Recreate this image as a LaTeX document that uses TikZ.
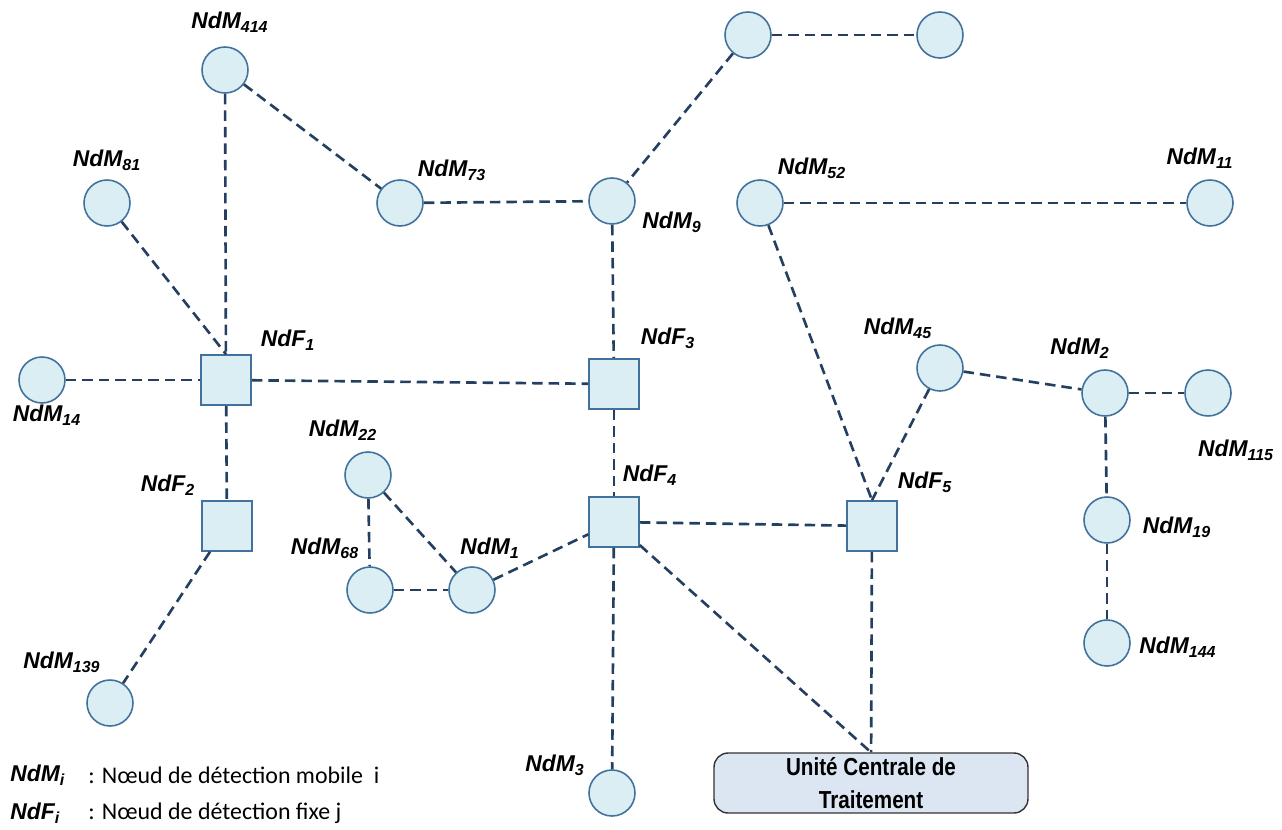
\documentclass[tikz,border=0pt]{standalone}
\usepackage{fontspec}
\usepackage{tikz}
\setmainfont{Liberation Sans}
\newfontfamily\narrowfont[FakeStretch=0.84]{Liberation Sans}
\newfontfamily\legfont{Carlito}

\definecolor{nodefill}{HTML}{DAEEF3}
\definecolor{nodeline}{HTML}{41719C}
\definecolor{linkcol}{HTML}{243F60}
\definecolor{ucfill}{HTML}{DCE6F2}

\tikzset{
    mob/.style={circle,draw=nodeline,fill=nodefill,line width=0.9pt,inner sep=0pt,minimum size=0.92cm},
    fix/.style={rectangle,draw=nodeline,fill=nodefill,line width=0.9pt,inner sep=0pt,minimum size=1cm},
    link/.style={draw=linkcol,line width=1.5pt,dash pattern=on 0.21cm off 0.12cm},
    lbl/.style={font=\fontsize{13}{15}\selectfont\bfseries\itshape,inner sep=0pt}
}

\begin{document}
\begin{tikzpicture}[x=0.02cm,y=-0.02cm]
            \useasboundingbox (0,0) rectangle (1282,829);
            \def\sub#1{\textsubscript{#1}}

            % mobile nodes
            \node[mob] (t1) at (748,35) {};
            \node[mob] (t2) at (940,35) {};
            \node[mob] (m414) at (225,70) {};
            \node[mob] (m81) at (107,203) {};
            \node[mob] (m73) at (400,203) {};
            \node[mob] (m9) at (612,201) {};
            \node[mob] (m52) at (760,203) {};
            \node[mob] (m11) at (1210,203) {};
            \node[mob] (m14) at (42,380) {};
            \node[mob] (m45) at (940,368) {};
            \node[mob] (m2) at (1105,393) {};
            \node[mob] (m115) at (1208,393) {};
            \node[mob] (m22) at (368,475) {};
            \node[mob] (m68) at (370,590) {};
            \node[mob] (m1) at (472,590) {};
            \node[mob] (m19) at (1107,520) {};
            \node[mob] (m144) at (1107,643) {};
            \node[mob] (m139) at (110,703) {};
            \node[mob] (m3) at (612,793) {};

            % fixed nodes
            \node[fix] (f1) at (226,380) {};
            \node[fix] (f3) at (614,384) {};
            \node[fix] (f2) at (227,526) {};
            \node[fix] (f4) at (614,522) {};
            \node[fix] (f5) at (872,526) {};

            % central unit
            \node[draw=black!80,fill=ucfill,line width=0.8pt,rounded corners=8pt,
                  minimum width=6.28cm,minimum height=1.2cm,inner sep=0pt,
                  align=center,font=\narrowfont\fontsize{14}{18.5}\selectfont\bfseries]
                  (cu) at (871,783) {Unité Centrale de\\Traitement};

            % links
            \draw[link] (t1) -- (t2);
            \draw[link] (t1) -- (m9);
            \draw[link] (m414) -- (f1);
            \draw[link] (m414) -- (m73);
            \draw[link] (m73) -- (m9);
            \draw[link] (m9) -- (f3);
            \draw[link] (m81) -- (f1.north);
            \draw[link] (m14) -- (f1);
            \draw[link] (f1) -- (f3);
            \draw[link] (f1) -- (f2);
            \draw[link] (f2) -- (m139);
            \draw[link] (f3) -- (f4);
            \draw[link] (f4) -- (m3);
            \draw[link] (f4) -- (f5);
            \draw[link] (f4) -- (cu.north);
            \draw[link] (m1) -- (f4);
            \draw[link] (m22) -- (m68);
            \draw[link] (m22) -- (m1);
            \draw[link] (m68) -- (m1);
            \draw[link] (m52) -- (f5.north);
            \draw[link] (m52) -- (m11);
            \draw[link] (m45) -- (f5.north);
            \draw[link] (m45) -- (m2);
            \draw[link] (m2) -- (m115);
            \draw[link] (m2) -- (m19);
            \draw[link] (m19) -- (m144);
            \draw[link] (f5) -- (cu);

            % labels
            \node[lbl] (l414) at (230,22) {NdM\sub{414}};
            \node[lbl] (l81) at (107,160) {NdM\sub{81}};
            \node[lbl] (l73) at (452,170) {NdM\sub{73}};
            \node[lbl] (l9) at (672,222) {NdM\sub{9}};
            \node[lbl] (l52) at (812,168) {NdM\sub{52}};
            \node[lbl] (l11) at (1200,158) {NdM\sub{11}};
            \node[lbl] (l14) at (47,415) {NdM\sub{14}};
            \node[lbl] (l45) at (898,328) {NdM\sub{45}};
            \node[lbl] (l2) at (1080,348) {NdM\sub{2}};
            \node[lbl] (l115) at (1236,450) {NdM\sub{115}};
            \node[lbl] (l22) at (343,430) {NdM\sub{22}};
            \node[lbl] (l68) at (325,548) {NdM\sub{68}};
            \node[lbl] (l1) at (490,548) {NdM\sub{1}};
            \node[lbl] (l19) at (1177,527) {NdM\sub{19}};
            \node[lbl] (l144) at (1178,647) {NdM\sub{144}};
            \node[lbl] (l139) at (62,662) {NdM\sub{139}};
            \node[lbl] (l3) at (555,765) {NdM\sub{3}};
            \node[lbl] (lf1) at (288,340) {NdF\sub{1}};
            \node[lbl] (lf3) at (668,338) {NdF\sub{3}};
            \node[lbl] (lf2) at (168,485) {NdF\sub{2}};
            \node[lbl] (lf4) at (650,475) {NdF\sub{4}};
            \node[lbl] (lf5) at (925,482) {NdF\sub{5}};

            % legend
            \node[lbl,anchor=west] (kM) at (10,775) {NdM\sub{i}};
            \node[lbl,anchor=west] (kF) at (10,813) {NdF\sub{i}};
            \node[anchor=west,inner sep=0pt,font=\legfont\fontsize{13.6}{15}\selectfont] (dM) at (88,775) {: Nœud de détection mobile\ \ i};
            \node[anchor=west,inner sep=0pt,font=\legfont\fontsize{13.6}{15}\selectfont] (dF) at (88,813) {: Nœud de détection fixe j};
        \end{tikzpicture}
\end{document}
